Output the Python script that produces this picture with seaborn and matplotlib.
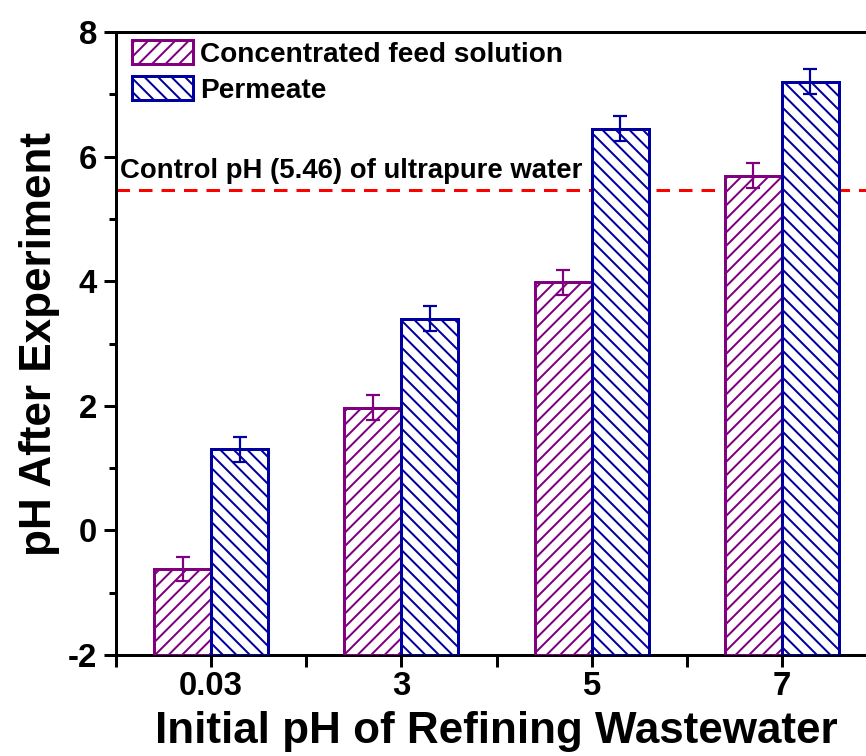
import matplotlib
matplotlib.use("Agg")
import matplotlib.pyplot as plt
from matplotlib.patches import Patch
import seaborn as sns
import pandas as pd

initial_ph = ["0.03", "3", "5", "7"]
feed_ph = [-0.62, 1.97, 3.98, 5.69]
feed_err = [0.20, 0.20, 0.20, 0.20]
permeate_ph = [1.30, 3.40, 6.45, 7.20]
permeate_err = [0.20, 0.20, 0.20, 0.20]
series_names = ["Concentrated feed solution", "Permeate"]
control_ph = 5.46
y_floor = -2

purple = "#800080"
navy = "#0000A0"

DPI = 81
PT = 72 / DPI  # points per output pixel

sns.set_theme(style="ticks")
plt.rcParams["font.family"] = ["Liberation Sans", "DejaVu Sans"]
plt.rcParams["font.weight"] = "bold"
plt.rcParams["axes.unicode_minus"] = False
plt.rcParams["hatch.linewidth"] = 2.0 * PT
for key in ["text.color", "axes.labelcolor", "xtick.color", "ytick.color"]:
    plt.rcParams[key] = "black"

df = pd.DataFrame({
    "Initial": initial_ph * 2,
    "pH": feed_ph + permeate_ph,
    "Series": [series_names[0]] * 4 + [series_names[1]] * 4,
})

fig = plt.figure(figsize=(866 / DPI, 756 / DPI), dpi=DPI)
ax = fig.add_axes([116 / 866, 1 - 655 / 756, 761 / 866, 623 / 756])

sns.barplot(data=df, x="Initial", y="pH", hue="Series", order=initial_ph,
            hue_order=series_names, errorbar=None, width=0.6, ax=ax,
            legend=False, palette=["white", "white"], zorder=3)

edge_cols = [purple, navy]
hatches = ["//", "\\\\"]
bar_groups = list(ax.containers)[:2]
for ci, cont in enumerate(bar_groups):
    errs = feed_err if ci == 0 else permeate_err
    for bar, e in zip(cont, errs):
        top = bar.get_y() + bar.get_height()
        # bars rise from the bottom of the axis rather than from zero
        bar.set_y(y_floor)
        bar.set_height(top - y_floor)
        bar.set_facecolor("white")
        bar.set_edgecolor(edge_cols[ci])
        bar.set_hatch(hatches[ci])
        bar.set_linewidth(3.0 * PT)
        xc = bar.get_x() + bar.get_width() / 2
        ax.errorbar(xc, top, yerr=e, color=edge_cols[ci], capsize=7 * PT,
                    capthick=2.2 * PT, elinewidth=2.2 * PT, zorder=5)

ax.axhline(control_ph, color="red", ls=(0, (4.5, 3)), lw=3.0 * PT, zorder=1)
ax.text(-0.48, control_ph + 0.19, "Control pH (5.46) of ultrapure water",
        fontsize=27.5 * PT, fontweight="bold", ha="left", va="baseline")

ax.set_xlim(-0.5, 3.5)
ax.set_ylim(y_floor, 8)
ax.set_yticks([-2, 0, 2, 4, 6, 8])
ax.set_yticks([-1, 1, 3, 5, 7], minor=True)
ax.set_xticks([-0.5, 0.5, 1.5, 2.5], minor=True)
ax.tick_params(axis="both", which="major", length=12 * PT, width=3 * PT,
               labelsize=33 * PT, direction="out")
ax.tick_params(axis="y", which="major", pad=7 * PT)
ax.tick_params(axis="x", which="major", pad=4 * PT)
ax.tick_params(axis="y", which="minor", length=7 * PT, width=3 * PT,
               direction="out")
ax.tick_params(axis="x", which="minor", length=12 * PT, width=3 * PT,
               direction="out")
for lab in ax.get_xticklabels() + ax.get_yticklabels():
    lab.set_fontweight("bold")
for s in ax.spines.values():
    s.set_linewidth(3 * PT)
    s.set_color("black")

ax.set_xlabel("Initial pH of Refining Wastewater", fontsize=44 * PT,
              fontweight="bold", labelpad=9 * PT)
ax.set_ylabel("pH After Experiment", fontsize=44 * PT, fontweight="bold",
              labelpad=8 * PT)

handles = [Patch(facecolor="white", edgecolor=c, hatch=h, linewidth=3 * PT)
           for c, h in zip(edge_cols, hatches)]
ax.legend(handles, series_names, loc="upper left",
          bbox_to_anchor=(8 / 761, 1.0), frameon=False,
          prop={"size": 28 * PT, "weight": "bold"}, handlelength=2.2,
          handleheight=0.95, borderaxespad=0, borderpad=0.28,
          labelspacing=0.3, handletextpad=0.25)

fig.savefig("out.png", dpi=DPI)
